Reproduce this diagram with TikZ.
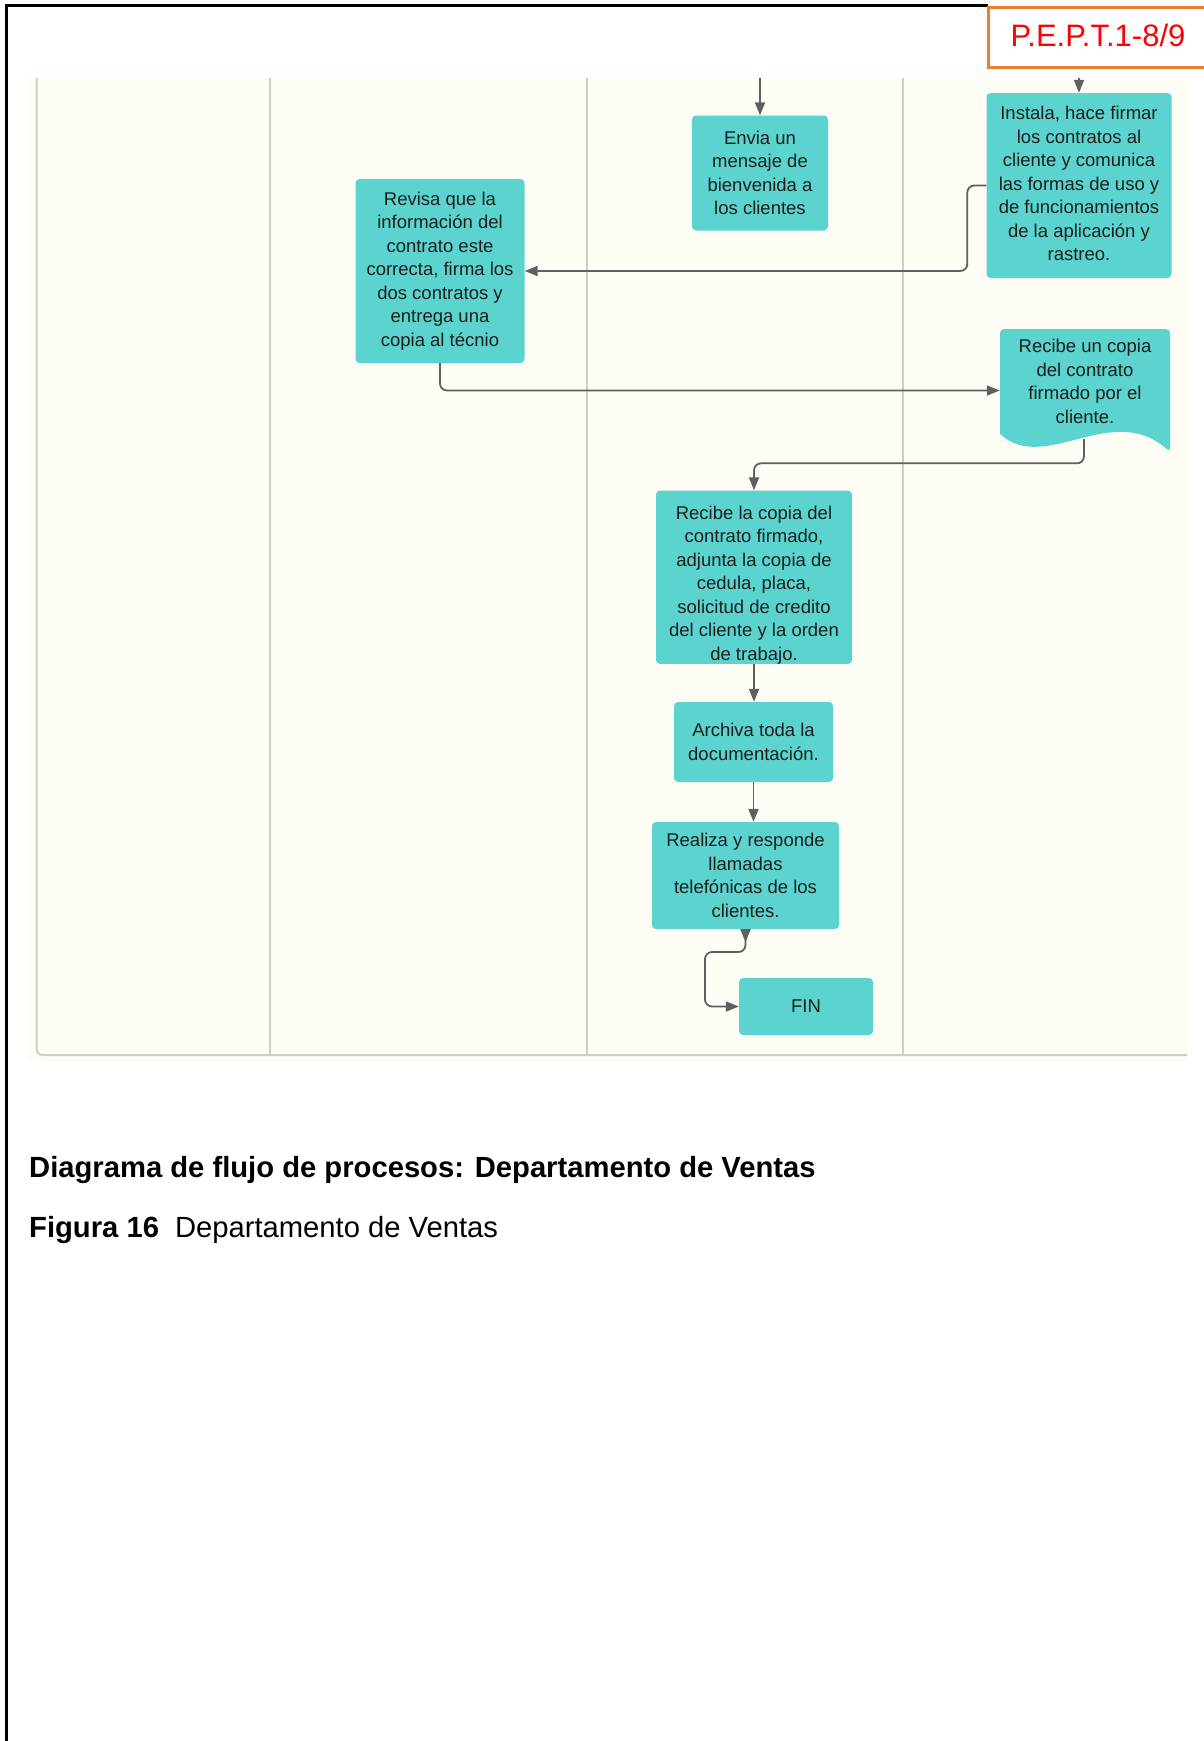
\documentclass[tikz,border=0pt]{standalone}
\usepackage{fontspec}
\setmainfont{Liberation Sans}
\usetikzlibrary{arrows.meta}

\definecolor{boxteal}{HTML}{5BD3CF}
\definecolor{boxtext}{HTML}{1E1E1E}
\definecolor{linkgray}{HTML}{5F5F5F}
\definecolor{lanebg}{HTML}{FDFDF6}
\definecolor{laneline}{HTML}{CFCDC4}
\definecolor{tagorange}{HTML}{ED7D31}
\definecolor{tagred}{HTML}{FF0000}

\newcommand{\boxfont}{\fontsize{18.5}{23.5}\selectfont}
% taller first line: pushes a centred text block downwards
\newcommand{\dropstrut}[1]{\rule{0pt}{#1}}
% deeper last line: lifts a centred text block upwards
\newcommand{\liftstrut}[1]{\rule[-#1]{0pt}{0pt}}

\tikzset{
  proc/.style={fill=boxteal, rounded corners=4pt, align=center, inner sep=0pt,
               font=\boxfont, text=boxtext},
  link/.style={draw=linkgray, line width=1.8pt, rounded corners=7pt,
               -{Triangle[length=13pt,width=10pt]}},
  lane/.style={draw=laneline, line width=2pt},
}

\begin{document}
\begin{tikzpicture}[x=1pt,y=-1pt]
\useasboundingbox (0,0) rectangle (1203,1741);
\fill[white] (0,0) rectangle (1203,1741);

% page frame
\draw[line width=2.5pt] (6.5,1745) -- (6.5,5.5) -- (988,5.5);

% page tag
\draw[tagorange, line width=3pt, fill=white] (1210,7) -- (988,7) -- (988,67) -- (1210,67);
\node[font=\fontsize{31}{36}\selectfont, text=tagred] (tag) at (1098,35) {P.E.P.T.1-8/9};

% swimlane area
\fill[lanebg] (28,78) rectangle (1187,1061);
\draw[lane, rounded corners=6pt] (36.7,78) -- (36.7,1055) -- (1187,1055);
\draw[lane] (270,78) -- (270,1055);
\draw[lane] (586.5,78) -- (586.5,1055);
\draw[lane] (903,78) -- (903,1055);

% process steps
\node[proc, minimum width=136pt, minimum height=115pt] (envia) at (760,173)
  {Envia un\\mensaje de\\bienvenida a\\los clientes};
\node[proc, minimum width=185pt, minimum height=185pt] (instala) at (1079,185.5)
  {Instala, hace firmar\\los contratos al\\cliente y comunica\\las formas de uso y\\de funcionamientos\\de la aplicación y\\rastreo.\liftstrut{4.4pt}};
\node[proc, minimum width=169pt, minimum height=184pt] (revisa) at (440,271)
  {Revisa que la\\información del\\contrato este\\correcta, firma los\\dos contratos y\\entrega una\\copia al técnio};

% document shape
\fill[boxteal, rounded corners=4pt] (1000,434) -- (1000,329) -- (1170,329) -- (1170,452)
  [sharp corners] .. controls (1112,400) and (1045,475) .. (1000,434) -- cycle;
\node[inner sep=0pt, minimum width=170pt, minimum height=123pt] (doc) at (1085,390.5) {};
\node[align=center, inner sep=0pt, font=\boxfont, text=boxtext] (doctext) at (1085,381.5)
  {Recibe un copia\\del contrato\\firmado por el\\cliente.};
\coordinate (docout) at (1084,439);

\node[proc, minimum width=196pt, minimum height=169pt] (recibe) at (754,577.2)
  {\dropstrut{28.5pt}Recibe la copia del\\contrato firmado,\\adjunta la copia de\\cedula, placa,\\solicitud de credito\\del cliente y la orden\\de trabajo.};
\node[proc, minimum width=159pt, minimum height=80pt] (archiva) at (753.5,742)
  {Archiva toda la\\documentación.};
\node[proc, minimum width=187pt, minimum height=107pt] (realiza) at (745.5,875.5)
  {Realiza y responde\\llamadas\\telefónicas de los\\clientes.};
\node[proc, minimum width=134pt, minimum height=57pt] (fin) at (806,1006.5) {FIN};

% connectors
\coordinate (enviain) at (760,78);
\coordinate (instalain) at (1079,78);
\coordinate (finbend) at (705,952);

\draw[link] (enviain) -- (envia.north);
\draw[link] (instalain) -- (instala.north);
\draw[link] (instala.west) -- ++(-19,0) |- (revisa.east);
\draw[link] (revisa.south) |- (doc.west);
\draw[link] (docout) |- ([yshift=27pt]recibe.north) -- (recibe.north);
\draw[link] (recibe.south) -- (recibe.south |- archiva.north);
\draw[link] (archiva.south) -- (archiva.south |- realiza.north);
\draw[link, {Triangle[length=13pt,width=10pt,reversed]}-{Triangle[length=13pt,width=10pt]}]
  (realiza.south) |- (finbend) |- (fin.west);

% caption
\node[anchor=base west, inner sep=0pt, font=\bfseries\fontsize{29.2}{34}\selectfont] (title) at (29,1177)
  {Diagrama de flujo de procesos: Departamento de Ventas};
\node[anchor=base west, inner sep=0pt, font=\fontsize{29.2}{34}\selectfont] (figcap) at (29,1237)
  {\textbf{Figura 16}\hspace{16pt}Departamento de Ventas};
\end{tikzpicture}
\end{document}
